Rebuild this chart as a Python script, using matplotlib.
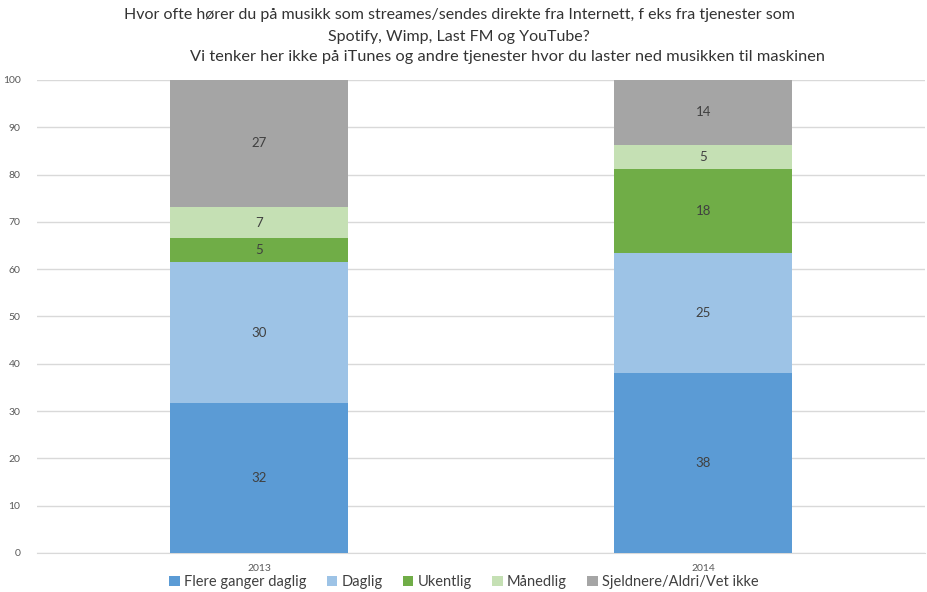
import numpy as np
import matplotlib
matplotlib.use('Agg')
import matplotlib.pyplot as plt

plt.rcParams['font.family'] = ['Lato', 'DejaVu Sans']

years = ['2013', '2014']
series = ['Flere ganger daglig', 'Daglig', 'Ukentlig', 'Månedlig', 'Sjeldnere/Aldri/Vet ikke']
flere = [31.6, 38.1]
daglig = [30.0, 25.4]
ukentlig = [4.9, 17.7]
maanedlig = [6.7, 5.1]
sjeldnere = [26.8, 13.7]
colors = ['#5B9BD5', '#9DC3E6', '#70AD47', '#C5E0B4', '#A5A5A5']

fig = plt.figure(figsize=(9.28, 5.92), dpi=100)
ax = fig.add_axes([0.04, 0.066, 0.957, 0.799])

x = np.arange(len(years))
bottom = np.zeros(len(years))
for name, vals, c in zip(series, [flere, daglig, ukentlig, maanedlig, sjeldnere], colors):
    vals = np.array(vals)
    ax.bar(x, vals, 0.4, bottom=bottom, color=c, label=name, zorder=3)
    for xi, b, v in zip(x, bottom, vals):
        ax.text(xi, b + v / 2, '%d' % round(v), ha='center', va='center',
                fontsize=9.5, color='#404040', zorder=4)
    bottom += vals

ax.set_xlim(-0.5, 1.5)
ax.set_ylim(0, 100)
ax.set_yticks(range(0, 101, 10))
ax.set_xticks(x)
ax.set_xticklabels(years)
ax.tick_params(axis='both', length=0, labelsize=7.5, colors='#595959')
ax.tick_params(axis='y', pad=12)
ax.tick_params(axis='x', pad=8)
ax.grid(axis='y', color='#D9D9D9', linewidth=1, zorder=0)
for s in ['top', 'right', 'left']:
    ax.spines[s].set_visible(False)
ax.spines['bottom'].set_color('#D9D9D9')

fig.text(0.495, 0.975, 'Hvor ofte hører du på musikk som streames/sendes direkte fra Internett, f eks fra tjenester som',
         ha='center', va='center', fontsize=11.5, color='#333333')
fig.text(0.495, 0.937, 'Spotify, Wimp, Last FM og YouTube?',
         ha='center', va='center', fontsize=11.5, color='#333333')
fig.text(0.547, 0.904, 'Vi tenker her ikke på iTunes og andre tjenester hvor du laster ned musikken til maskinen',
         ha='center', va='center', fontsize=11.8, color='#333333')

fig.legend(loc='center', bbox_to_anchor=(0.5, 0.017), ncol=5, frameon=False,
           fontsize=10.5, handlelength=0.7, handleheight=0.7, handletextpad=0.3,
           columnspacing=1.4, labelcolor='#404040')

fig.savefig('out.png', dpi=100)
